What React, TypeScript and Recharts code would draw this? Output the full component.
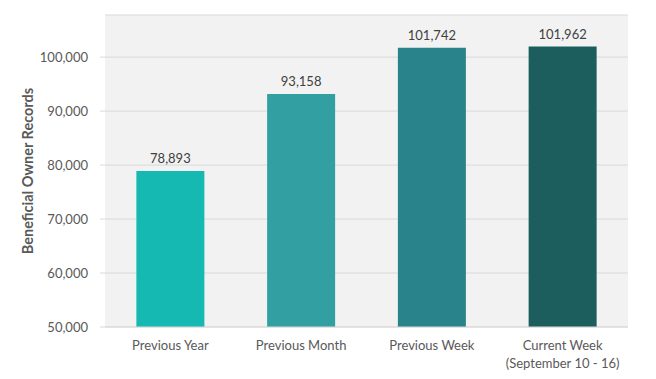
import React from 'react';
import { BarChart, Bar, XAxis, YAxis, CartesianGrid, LabelList, Cell } from 'recharts';

const categories = ['Previous Year', 'Previous Month', 'Previous Week', 'Current Week\n(September 10 - 16)'];
const records = [78893, 93158, 101742, 101962];
const yTicks = [50000, 60000, 70000, 80000, 90000, 100000];

const COLORS = ['#15b9b1', '#329fa2', '#28838a', '#1b5e5d'];
const FONT = 'Lato, "Open Sans", sans-serif';

const data = categories.map((name, i) => ({ name, value: records[i] }));

const fmt = (v: number) => v.toLocaleString('en-US');

const XTick = (props: any) => {
    const { x, y, payload } = props;
    const lines = String(payload.value).split('\n');
    return (
        <text x={x} y={y} textAnchor="middle" fill="#595959" fontSize={13} fontFamily={FONT}>
            {lines.map((l, i) => (
                <tspan key={i} x={x} dy={i === 0 ? 15 : 18}>{l}</tspan>
            ))}
        </text>
    );
};

const YLabel = () => (
    <text
        x={33}
        y={171}
        transform="rotate(-90 33 171)"
        textAnchor="middle"
        fill="#595959"
        fontSize={14.5}
        fontWeight={700}
        fontFamily={FONT}
    >
        Beneficial Owner Records
    </text>
);

const App: React.FC = () => {
    return (
        <div style={{ position: 'absolute', left: 0, top: 0, background: '#fff' }}>
            <BarChart
                width={656}
                height={379}
                data={data}
                margin={{ top: 15, right: 28, bottom: 0, left: 0 }}
                barCategoryGap="24%"
            >
                <CartesianGrid vertical={false} stroke="#d9d9d9" fill="#f2f2f2" />
                <XAxis
                    dataKey="name"
                    height={52}
                    tick={<XTick />}
                    tickLine={false}
                    axisLine={{ stroke: '#d9d9d9' }}
                    interval={0}
                />
                <YAxis
                    width={105}
                    domain={[50000, 107800]}
                    ticks={yTicks}
                    allowDataOverflow
                    tickFormatter={fmt}
                    tick={{ fill: '#595959', fontSize: 13, fontFamily: FONT }}
                    tickSize={5}
                    tickMargin={12}
                    tickLine={{ stroke: '#d9d9d9' }}
                    axisLine={false}
                    label={<YLabel />}
                />
                <Bar dataKey="value" isAnimationActive={false}>
                    {data.map((d, i) => (
                        <Cell key={`cell-${i}`} fill={COLORS[i]} />
                    ))}
                    <LabelList
                        dataKey="value"
                        position="top"
                        offset={8}
                        formatter={(v: any) => fmt(Number(v))}
                        style={{ fill: '#404040', fontSize: 13, fontFamily: FONT }}
                    />
                </Bar>
            </BarChart>
        </div>
    );
};

export default App;
